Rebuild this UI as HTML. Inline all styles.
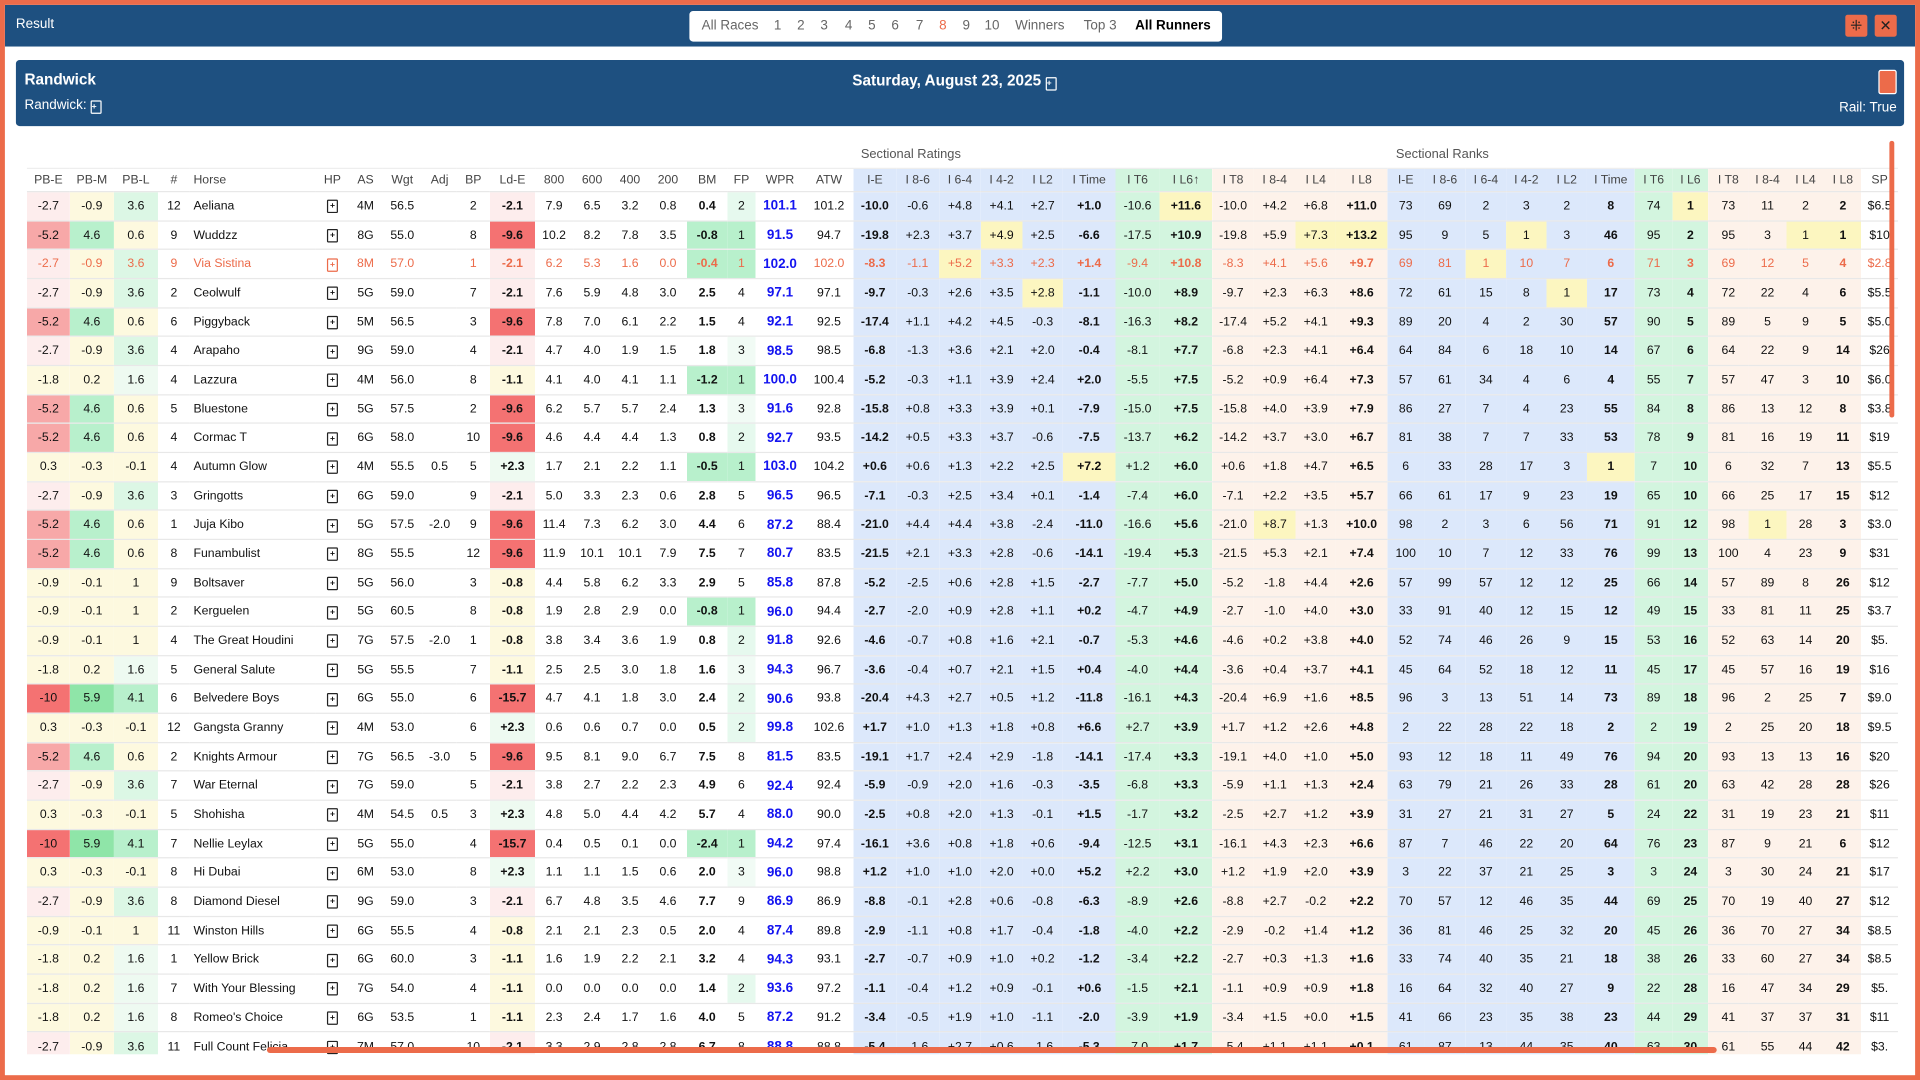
<!DOCTYPE html>
<html><head><meta charset="utf-8">
<style>
html,body{margin:0;padding:0;width:1920px;height:1080px;overflow:hidden;background:#fff}
#s{position:absolute;left:0;top:0;width:1568px;height:882px;transform:scale(1.22449);transform-origin:0 0;background:#ec6b4a;font-family:"Liberation Sans Narrow","Liberation Sans",sans-serif}
#in{position:absolute;left:4px;top:4px;width:1560px;height:874px;background:#fff;overflow:hidden}
#top{position:absolute;left:0;top:0;width:1560px;height:34px;background:#1e5080}
#top .t{position:absolute;left:9px;top:10px;color:#fff;font-size:11px}
#nav{position:absolute;left:559px;top:5px;width:435px;height:25px;background:#fff;border-radius:3px;font-family:"Liberation Sans",sans-serif;font-size:11px;color:#666;white-space:nowrap;line-height:25px}
#nav span{position:absolute}
.btn{position:absolute;top:8px;width:18px;height:18px;background:#ec6b4a;border-radius:2px;color:#222;font-size:12px;text-align:center;line-height:18px;font-family:"Liberation Sans",sans-serif}
#hd{position:absolute;left:9px;top:45px;width:1542px;height:54px;background:#1e5080;border-radius:3px;color:#fff}
table{position:absolute;left:18px;top:133px;border-collapse:collapse;table-layout:fixed;font-size:10px;color:#111}
td{height:23.68px;padding:0;text-align:center;border-top:1px solid #e8e8e8;overflow:hidden;white-space:nowrap;box-sizing:border-box}
tr.h td{height:19px;color:#444;border-top:1px solid #eee}
td.hn{text-align:left;padding-left:3px}
.b{font-weight:bold}
.w{color:#1414f0;font-weight:bold;font-size:11px}
.v td{color:#ec6b4a}
.v td.w{color:#1414f0}
.ic{display:inline-block;width:7px;height:9px;border:1px solid #222;border-radius:1px;font-size:7px;line-height:9px;font-weight:bold}
</style></head><body>
<div id="s"><div id="in">
<div id="top"><div class="t">Result</div>
<div id="nav"><span style="left:10px">All Races</span><span style="left:69px">1</span><span style="left:88px">2</span><span style="left:107px">3</span><span style="left:127px">4</span><span style="left:146px">5</span><span style="left:165px">6</span><span style="left:185px">7</span><span style="left:204px;color:#ec6b4a">8</span><span style="left:223px">9</span><span style="left:241px">10</span><span style="left:266px">Winners</span><span style="left:322px">Top 3</span><span style="left:364px;color:#000;font-weight:bold">All Runners</span></div>
<div class="btn" style="left:1503px">⁜</div><div class="btn" style="left:1527px">✕</div></div>
<div id="hd">
<div style="position:absolute;left:7px;top:9px;font-weight:bold;font-size:12.5px">Randwick</div>
<div style="position:absolute;left:7px;top:31px;font-size:11px">Randwick: <span class="ic" style="border-color:#fff">+</span></div>
<div style="position:absolute;left:683px;top:10px;font-weight:bold;font-size:12.5px">Saturday, August 23, 2025 <span class="ic" style="border-color:#fff;color:#fff">+</span></div>
<div style="position:absolute;left:1521px;top:8px;width:13px;height:18px;background:#ec6b4a;border:1px solid #fff;border-radius:2px"></div>
<div style="position:absolute;right:6px;top:33px;font-size:11px">Rail: True</div>
</div>
<div style="position:absolute;left:699px;top:116px;font-size:10.5px;color:#555">Sectional Ratings</div>
<div style="position:absolute;left:1136px;top:116px;font-size:10.5px;color:#555">Sectional Ranks</div>
<table id="t"></table>
<div style="position:absolute;left:1539px;top:111px;width:4px;height:226px;background:#ec6b4a;border-radius:2px"></div>
<div style="position:absolute;left:214px;top:851px;width:1184px;height:5px;background:#ec6b4a;border-radius:3px"></div>
<div style="position:absolute;left:0;top:857px;width:1560px;height:20px;background:#fff"></div>
</div></div>
<script>
var W=[35,36,36,26,103,27,27,33,28,27,37,31,31,31,31,33,23,40,40,35,35,34,34,33,43,36,43,34,34,33,42,30,34,33,33,33,39,31,29,33,31,31,30,30];
var H=["PB-E","PB-M","PB-L","#","Horse","HP","AS","Wgt","Adj","BP","Ld-E","800","600","400","200","BM","FP","WPR","ATW","I-E","I 8-6","I 6-4","I 4-2","I L2","I Time","I T6","I L6↑","I T8","I 8-4","I L4","I L8","I-E","I 8-6","I 6-4","I 4-2","I L2","I Time","I T6","I L6","I T8","I 8-4","I L4","I L8","SP"];
var D=`-2.7,-0.9,3.6,12,Aeliana,4M,56.5,,2,-2.1,7.9,6.5,3.2,0.8,0.4,2,101.1,101.2,-10.0,-0.6,+4.8,+4.1,+2.7,+1.0,-10.6,+11.6,-10.0,+4.2,+6.8,+11.0,73,69,2,3,2,8,74,1,73,11,2,2,$6.5
-5.2,4.6,0.6,9,Wuddzz,8G,55.0,,8,-9.6,10.2,8.2,7.8,3.5,-0.8,1,91.5,94.7,-19.8,+2.3,+3.7,+4.9,+2.5,-6.6,-17.5,+10.9,-19.8,+5.9,+7.3,+13.2,95,9,5,1,3,46,95,2,95,3,1,1,$10
-2.7,-0.9,3.6,9,Via Sistina,8M,57.0,,1,-2.1,6.2,5.3,1.6,0.0,-0.4,1,102.0,102.0,-8.3,-1.1,+5.2,+3.3,+2.3,+1.4,-9.4,+10.8,-8.3,+4.1,+5.6,+9.7,69,81,1,10,7,6,71,3,69,12,5,4,$2.8
-2.7,-0.9,3.6,2,Ceolwulf,5G,59.0,,7,-2.1,7.6,5.9,4.8,3.0,2.5,4,97.1,97.1,-9.7,-0.3,+2.6,+3.5,+2.8,-1.1,-10.0,+8.9,-9.7,+2.3,+6.3,+8.6,72,61,15,8,1,17,73,4,72,22,4,6,$5.5
-5.2,4.6,0.6,6,Piggyback,5M,56.5,,3,-9.6,7.8,7.0,6.1,2.2,1.5,4,92.1,92.5,-17.4,+1.1,+4.2,+4.5,-0.3,-8.1,-16.3,+8.2,-17.4,+5.2,+4.1,+9.3,89,20,4,2,30,57,90,5,89,5,9,5,$5.0
-2.7,-0.9,3.6,4,Arapaho,9G,59.0,,4,-2.1,4.7,4.0,1.9,1.5,1.8,3,98.5,98.5,-6.8,-1.3,+3.6,+2.1,+2.0,-0.4,-8.1,+7.7,-6.8,+2.3,+4.1,+6.4,64,84,6,18,10,14,67,6,64,22,9,14,$26
-1.8,0.2,1.6,4,Lazzura,4M,56.0,,8,-1.1,4.1,4.0,4.1,1.1,-1.2,1,100.0,100.4,-5.2,-0.3,+1.1,+3.9,+2.4,+2.0,-5.5,+7.5,-5.2,+0.9,+6.4,+7.3,57,61,34,4,6,4,55,7,57,47,3,10,$6.0
-5.2,4.6,0.6,5,Bluestone,5G,57.5,,2,-9.6,6.2,5.7,5.7,2.4,1.3,3,91.6,92.8,-15.8,+0.8,+3.3,+3.9,+0.1,-7.9,-15.0,+7.5,-15.8,+4.0,+3.9,+7.9,86,27,7,4,23,55,84,8,86,13,12,8,$3.8
-5.2,4.6,0.6,4,Cormac T,6G,58.0,,10,-9.6,4.6,4.4,4.4,1.3,0.8,2,92.7,93.5,-14.2,+0.5,+3.3,+3.7,-0.6,-7.5,-13.7,+6.2,-14.2,+3.7,+3.0,+6.7,81,38,7,7,33,53,78,9,81,16,19,11,$19
0.3,-0.3,-0.1,4,Autumn Glow,4M,55.5,0.5,5,+2.3,1.7,2.1,2.2,1.1,-0.5,1,103.0,104.2,+0.6,+0.6,+1.3,+2.2,+2.5,+7.2,+1.2,+6.0,+0.6,+1.8,+4.7,+6.5,6,33,28,17,3,1,7,10,6,32,7,13,$5.5
-2.7,-0.9,3.6,3,Gringotts,6G,59.0,,9,-2.1,5.0,3.3,2.3,0.6,2.8,5,96.5,96.5,-7.1,-0.3,+2.5,+3.4,+0.1,-1.4,-7.4,+6.0,-7.1,+2.2,+3.5,+5.7,66,61,17,9,23,19,65,10,66,25,17,15,$12
-5.2,4.6,0.6,1,Juja Kibo,5G,57.5,-2.0,9,-9.6,11.4,7.3,6.2,3.0,4.4,6,87.2,88.4,-21.0,+4.4,+4.4,+3.8,-2.4,-11.0,-16.6,+5.6,-21.0,+8.7,+1.3,+10.0,98,2,3,6,56,71,91,12,98,1,28,3,$3.0
-5.2,4.6,0.6,8,Funambulist,8G,55.5,,12,-9.6,11.9,10.1,10.1,7.9,7.5,7,80.7,83.5,-21.5,+2.1,+3.3,+2.8,-0.6,-14.1,-19.4,+5.3,-21.5,+5.3,+2.1,+7.4,100,10,7,12,33,76,99,13,100,4,23,9,$31
-0.9,-0.1,1,9,Boltsaver,5G,56.0,,3,-0.8,4.4,5.8,6.2,3.3,2.9,5,85.8,87.8,-5.2,-2.5,+0.6,+2.8,+1.5,-2.7,-7.7,+5.0,-5.2,-1.8,+4.4,+2.6,57,99,57,12,12,25,66,14,57,89,8,26,$12
-0.9,-0.1,1,2,Kerguelen,5G,60.5,,8,-0.8,1.9,2.8,2.9,0.0,-0.8,1,96.0,94.4,-2.7,-2.0,+0.9,+2.8,+1.1,+0.2,-4.7,+4.9,-2.7,-1.0,+4.0,+3.0,33,91,40,12,15,12,49,15,33,81,11,25,$3.7
-0.9,-0.1,1,4,The Great Houdini,7G,57.5,-2.0,1,-0.8,3.8,3.4,3.6,1.9,0.8,2,91.8,92.6,-4.6,-0.7,+0.8,+1.6,+2.1,-0.7,-5.3,+4.6,-4.6,+0.2,+3.8,+4.0,52,74,46,26,9,15,53,16,52,63,14,20,$5.
-1.8,0.2,1.6,5,General Salute,5G,55.5,,7,-1.1,2.5,2.5,3.0,1.8,1.6,3,94.3,96.7,-3.6,-0.4,+0.7,+2.1,+1.5,+0.4,-4.0,+4.4,-3.6,+0.4,+3.7,+4.1,45,64,52,18,12,11,45,17,45,57,16,19,$16
-10,5.9,4.1,6,Belvedere Boys,6G,55.0,,6,-15.7,4.7,4.1,1.8,3.0,2.4,2,90.6,93.8,-20.4,+4.3,+2.7,+0.5,+1.2,-11.8,-16.1,+4.3,-20.4,+6.9,+1.6,+8.5,96,3,13,51,14,73,89,18,96,2,25,7,$9.0
0.3,-0.3,-0.1,12,Gangsta Granny,4M,53.0,,6,+2.3,0.6,0.6,0.7,0.0,0.5,2,99.8,102.6,+1.7,+1.0,+1.3,+1.8,+0.8,+6.6,+2.7,+3.9,+1.7,+1.2,+2.6,+4.8,2,22,28,22,18,2,2,19,2,25,20,18,$9.5
-5.2,4.6,0.6,2,Knights Armour,7G,56.5,-3.0,5,-9.6,9.5,8.1,9.0,6.7,7.5,8,81.5,83.5,-19.1,+1.7,+2.4,+2.9,-1.8,-14.1,-17.4,+3.3,-19.1,+4.0,+1.0,+5.0,93,12,18,11,49,76,94,20,93,13,13,16,$20
-2.7,-0.9,3.6,7,War Eternal,7G,59.0,,5,-2.1,3.8,2.7,2.2,2.3,4.9,6,92.4,92.4,-5.9,-0.9,+2.0,+1.6,-0.3,-3.5,-6.8,+3.3,-5.9,+1.1,+1.3,+2.4,63,79,21,26,33,28,61,20,63,42,28,28,$26
0.3,-0.3,-0.1,5,Shohisha,4M,54.5,0.5,3,+2.3,4.8,5.0,4.4,4.2,5.7,4,88.0,90.0,-2.5,+0.8,+2.0,+1.3,-0.1,+1.5,-1.7,+3.2,-2.5,+2.7,+1.2,+3.9,31,27,21,31,27,5,24,22,31,19,23,21,$11
-10,5.9,4.1,7,Nellie Leylax,5G,55.0,,4,-15.7,0.4,0.5,0.1,0.0,-2.4,1,94.2,97.4,-16.1,+3.6,+0.8,+1.8,+0.6,-9.4,-12.5,+3.1,-16.1,+4.3,+2.3,+6.6,87,7,46,22,20,64,76,23,87,9,21,6,$12
0.3,-0.3,-0.1,8,Hi Dubai,6M,53.0,,8,+2.3,1.1,1.1,1.5,0.6,2.0,3,96.0,98.8,+1.2,+1.0,+1.0,+2.0,+0.0,+5.2,+2.2,+3.0,+1.2,+1.9,+2.0,+3.9,3,22,37,21,25,3,3,24,3,30,24,21,$17
-2.7,-0.9,3.6,8,Diamond Diesel,9G,59.0,,3,-2.1,6.7,4.8,3.5,4.6,7.7,9,86.9,86.9,-8.8,-0.1,+2.8,+0.6,-0.8,-6.3,-8.9,+2.6,-8.8,+2.7,-0.2,+2.2,70,57,12,46,35,44,69,25,70,19,40,27,$12
-0.9,-0.1,1,11,Winston Hills,6G,55.5,,4,-0.8,2.1,2.1,2.3,0.5,2.0,4,87.4,89.8,-2.9,-1.1,+0.8,+1.7,-0.4,-1.8,-4.0,+2.2,-2.9,-0.2,+1.4,+1.2,36,81,46,25,32,20,45,26,36,70,27,34,$8.5
-1.8,0.2,1.6,1,Yellow Brick,6G,60.0,,3,-1.1,1.6,1.9,2.2,2.1,3.2,4,94.3,93.1,-2.7,-0.7,+0.9,+1.0,+0.2,-1.2,-3.4,+2.2,-2.7,+0.3,+1.3,+1.6,33,74,40,35,21,18,38,26,33,60,27,34,$8.5
-1.8,0.2,1.6,7,With Your Blessing,7G,54.0,,4,-1.1,0.0,0.0,0.0,0.0,1.4,2,93.6,97.2,-1.1,-0.4,+1.2,+0.9,-0.1,+0.6,-1.5,+2.1,-1.1,+0.9,+0.9,+1.8,16,64,32,40,27,9,22,28,16,47,34,29,$5.
-1.8,0.2,1.6,8,Romeo's Choice,6G,53.5,,1,-1.1,2.3,2.4,1.7,1.6,4.0,5,87.2,91.2,-3.4,-0.5,+1.9,+1.0,-1.1,-2.0,-3.9,+1.9,-3.4,+1.5,+0.0,+1.5,41,66,23,35,38,23,44,29,41,37,37,31,$11
-2.7,-0.9,3.6,11,Full Count Felicia,7M,57.0,,10,-2.1,3.3,2.9,2.8,2.8,6.7,8,88.8,88.8,-5.4,-1.6,+2.7,+0.6,-1.6,-5.3,-7.0,+1.7,-5.4,+1.1,+1.1,+0.1,61,87,13,44,35,40,63,30,61,55,44,42,$3.`;
var Y="#fdf9df",LG="#dcf7e5",G="#b8f0cc",GG="#8fe5a8",LP="#fdeded",MP="#f7a8a8",R="#f47272";
var BL="#dce8fb",GR="#d3f5df",PE="#fdf2ea",HY="#fcf6c0";
function pbe(v){return {"-2.7":LP,"-5.2":MP,"-10":R}[v]||Y}
function pbm(v){return {"4.6":G,"5.9":GG}[v]||Y}
function pbl(v){return {"3.6":LG,"1.6":"#eefaf1","4.1":G}[v]||Y}
function lde(v){return {"-2.1":LP,"-9.6":R,"-15.7":R,"+2.3":"#eefaf1"}[v]||Y}
function secbg(k){var j=k%12;return j<6?BL:(j<8?GR:PE)}
var t=document.getElementById('t');
var cg='<colgroup>'+W.map(function(w){return '<col style="width:'+w+'px">'}).join('')+'</colgroup>';
var h='<tr class="h">'+H.map(function(x,i){var bg=(i>=19&&i<43)?secbg(i-19):'';return '<td'+(i==4?' class="hn"':'')+(bg?' style="background:'+bg+'"':'')+'>'+x+'</td>'}).join('')+'</tr>';
var rows='';
D.split('\n').forEach(function(line,ri){
 var a=line.split(',');
 a.splice(5,0,'HP');
 var r='<tr'+(ri==2?' class="v"':'')+'>';
 for(var i=0;i<44;i++){
  var v=a[i],bg='',cls='';
  if(i==0)bg=pbe(v);if(i==1)bg=pbm(v);if(i==2)bg=pbl(v);
  if(i==10){bg=lde(v);cls='b'}
  if(i==15){cls='b';if(v.charAt(0)=='-')bg=G}
  if(i==16){bg={"1":G,"2":"#e6f9ee","3":"#f1fbf5"}[v]||''}
  if(i==17)cls='w';
  if(i>=19&&i<43){var k=i-19;bg=secbg(k);var j=k%12;
    if((j==0&&k<12)||j==5||j==7||j==11)cls='b';
    var rk=k<12?a[i+12]:v; if(rk==='1')bg=HY;}
  if(i==4)cls='hn';
  if(i==5)v='<span class="ic"'+(ri==2?' style="border-color:#ec6b4a"':'')+'>+</span>';
  r+='<td'+(cls?' class="'+cls+'"':'')+(bg?' style="background:'+bg+'"':'')+'>'+v+'</td>';
 }
 rows+=r+'</tr>';
});
t.innerHTML=cg+h+rows;
</script>
</body></html>
